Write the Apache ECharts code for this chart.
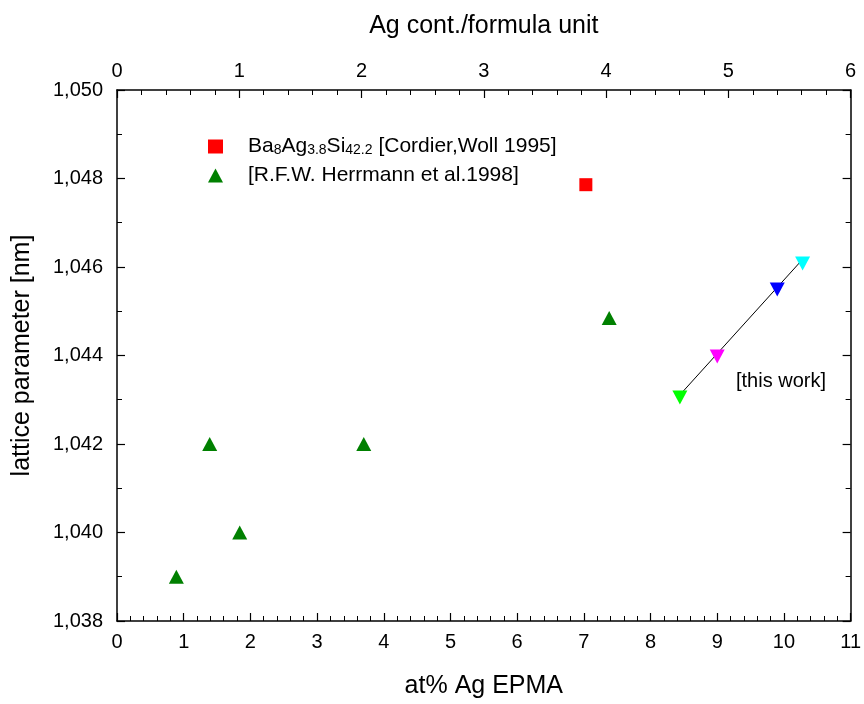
<!DOCTYPE html>
<html>
<head>
<meta charset="utf-8">
<script src="https://cdn.jsdelivr.net/npm/echarts@6/dist/echarts.min.js"></script>
<style>html,body{margin:0;padding:0;background:#fff}#c{width:864px;height:704px}</style>
</head>
<body>
<div id="c"></div>
<script>
// Data
const cordierX = [7.03];
const cordierY = [1.04786];
const herrmannX = [0.89, 1.39, 1.84, 3.70, 7.38];
const herrmannY = [1.039, 1.042, 1.040, 1.042, 1.04485];
const thisWorkX = [8.44, 9.00, 9.90, 10.28];
const thisWorkY = [1.04305, 1.04398, 1.04549, 1.04608];
const thisWorkColors = ['#00ff00', '#ff00ff', '#0000ff', '#00ffff'];
const fitX = [8.44, 10.26];
const fitY = [1.04311, 1.04614];
const bottomTicks = [0,1,2,3,4,5,6,7,8,9,10,11];
const topTicks = [0,1,2,3,4,5,6];
const yTicks = [1.038, 1.040, 1.042, 1.044, 1.046, 1.048, 1.050];

const FONT = 'Liberation Sans, Arial, sans-serif';
const chart = echarts.init(document.getElementById('c'), null, {renderer: 'canvas'});

const pair = (xs, ys) => xs.map((x, i) => [x, ys[i]]);

const axisCommon = {
  axisLine: {show: true, onZero: false, lineStyle: {color: '#000', width: 1.5}},
  axisTick: {show: true, inside: true, length: 8, lineStyle: {color: '#000', width: 1.2}},
  minorTick: {show: true, length: 5, lineStyle: {color: '#000', width: 1}},
  splitLine: {show: false}
};

const option = {
  animation: false,
  backgroundColor: '#fff',
  textStyle: {fontFamily: FONT},
  grid: {left: 117, right: 11, top: 90, bottom: 80, containLabel: false},
  xAxis: [
    Object.assign({}, axisCommon, {
      type: 'value', position: 'bottom', min: bottomTicks[0], max: bottomTicks[bottomTicks.length-1], interval: 1,
      minorTick: Object.assign({}, axisCommon.minorTick, {splitNumber: 5}),
      axisLabel: {color: '#000', fontSize: 20, fontFamily: FONT, margin: 11},
      name: 'at% Ag EPMA', nameLocation: 'middle', nameGap: 53,
      nameTextStyle: {color: '#000', fontSize: 25, fontFamily: FONT}
    }),
    Object.assign({}, axisCommon, {
      type: 'value', position: 'top', min: topTicks[0], max: topTicks[topTicks.length-1], interval: 1,
      minorTick: Object.assign({}, axisCommon.minorTick, {splitNumber: 5}),
      axisLabel: {color: '#000', fontSize: 20, fontFamily: FONT, margin: 9},
      name: 'Ag cont./formula unit', nameLocation: 'middle', nameGap: 51,
      nameTextStyle: {color: '#000', fontSize: 25, fontFamily: FONT}
    })
  ],
  yAxis: [
    Object.assign({}, axisCommon, {
      type: 'value', position: 'left', min: yTicks[0], max: yTicks[yTicks.length-1], interval: 0.002,
      minorTick: Object.assign({}, axisCommon.minorTick, {splitNumber: 2}),
      axisLabel: {color: '#000', fontSize: 20, fontFamily: FONT, margin: 14,
        formatter: v => v.toFixed(3).replace('.', ',')},
      name: 'lattice parameter [nm]', nameLocation: 'middle', nameGap: 82, nameRotate: 90,
      nameTextStyle: {color: '#000', fontSize: 25, fontFamily: FONT}
    }),
    Object.assign({}, axisCommon, {
      type: 'value', position: 'right', min: yTicks[0], max: yTicks[yTicks.length-1], interval: 0.002,
      minorTick: Object.assign({}, axisCommon.minorTick, {splitNumber: 2}),
      axisLabel: {show: false}
    })
  ],
  legend: {
    orient: 'vertical', left: 203, top: 131, itemWidth: 15, itemHeight: 14, itemGap: 8,
    data: ['cordier', 'herrmann'],
    formatter: name => name === 'cordier'
      ? '{m|Ba}{s|8}{m|Ag}{s|3.8}{m|Si}{s|42.2}{m| [Cordier,Woll 1995]}'
      : '{m|[R.F.W. Herrmann et al.1998]}',
    textStyle: {
      fontFamily: FONT, color: '#000', padding: [0, 0, 0, 20],
      rich: {
        m: {fontSize: 21, lineHeight: 21, verticalAlign: 'bottom', fontFamily: FONT, color: '#000'},
        s: {fontSize: 14, lineHeight: 10, verticalAlign: 'bottom', fontFamily: FONT, color: '#000'}
      }
    }
  },
  graphic: [{
    type: 'text', left: 736, top: 371,
    style: {text: '[this work]', fontSize: 20, fontFamily: FONT, fill: '#000'}
  }],
  series: [
    {
      name: 'fit', type: 'line', data: pair(fitX, fitY), showSymbol: false, symbol: 'none',
      lineStyle: {color: '#000', width: 1}, z: 1, silent: true
    },
    {
      name: 'cordier', type: 'scatter', data: pair(cordierX, cordierY),
      symbol: 'rect', symbolSize: 13, itemStyle: {color: '#ff0000', opacity: 1}, z: 3
    },
    {
      name: 'herrmann', type: 'scatter', data: pair(herrmannX, herrmannY),
      symbol: 'triangle', symbolSize: [15, 14], itemStyle: {color: '#008000', opacity: 1}, z: 3
    },
    {
      name: 'this work', type: 'scatter',
      data: pair(thisWorkX, thisWorkY).map((p, i) => ({value: p, itemStyle: {color: thisWorkColors[i], opacity: 1}})),
      symbol: 'triangle', symbolRotate: 180, symbolSize: [15, 14], z: 3
    }
  ]
};
chart.setOption(option);
</script>
</body>
</html>
